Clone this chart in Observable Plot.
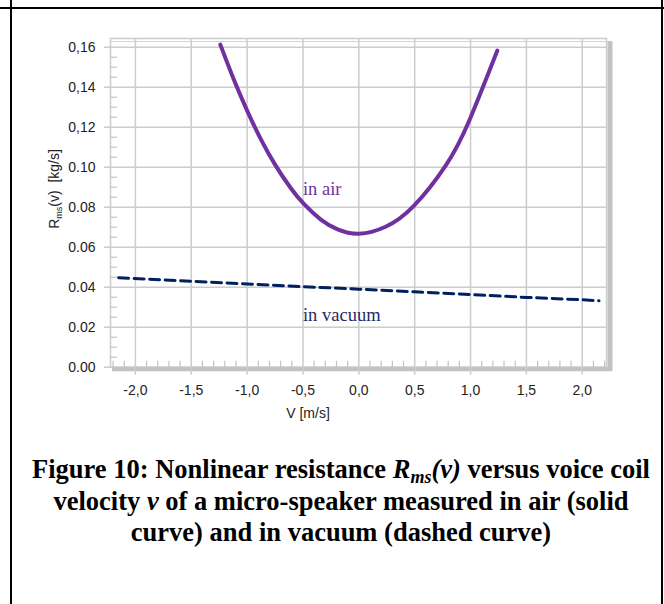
<!DOCTYPE html>
<html><head><meta charset="utf-8">
<script src="https://cdn.jsdelivr.net/npm/d3@7"></script>
<script src="https://cdn.jsdelivr.net/npm/@observablehq/plot@0.6"></script>
<style>
body{margin:0;background:#fff;}
#wrap{position:relative;width:664px;height:604px;overflow:hidden;background:#fff;}
.b{position:absolute;background:#000;}
#chart{position:absolute;left:0;top:0;}
#cap{position:absolute;left:14px;width:654px;top:454px;text-align:center;font-family:"Liberation Serif","Times New Roman",serif;font-weight:bold;font-size:26.5px;line-height:31.5px;color:#000;}
#cap sub{font-size:0.68em;line-height:0;vertical-align:-0.25em;}
</style></head><body>
<div id="wrap">
 <div id="chart"></div>
 <div class="b" style="left:0;top:7px;width:664px;height:2px"></div>
 <div class="b" style="left:10px;top:0;width:2px;height:604px"></div>
 <div class="b" style="left:661px;top:0;width:2px;height:604px"></div>
 <div id="cap">Figure 10: Nonlinear resistance <i>R<sub>ms</sub>(v)</i> versus voice coil<br>velocity <i>v</i> of a micro-speaker measured in air (solid<br>curve) and in vacuum (dashed curve)</div>
</div>
<script>
// ---- data ----
const airV = [-1.24, -1.12, -1.0, -0.88, -0.75, -0.61, -0.49, -0.34, -0.19, 0.0, 0.24, 0.49, 0.78, 0.99, 1.24];
const airR = [0.1613, 0.1440, 0.1283, 0.1143, 0.1013, 0.0896, 0.0815, 0.0738, 0.0689, 0.0667, 0.0702, 0.0805, 0.1010, 0.1235, 0.1583];
const vacV = [-2.15, -1.5, -1.0, -0.5, 0.0, 0.5, 1.0, 1.5, 2.0, 2.15];
const vacR = [0.0447, 0.0430, 0.0416, 0.0403, 0.0390, 0.0377, 0.0363, 0.0349, 0.0337, 0.0332];
const xTicks = [-2, -1.5, -1, -0.5, 0, 0.5, 1, 1.5, 2];
const xTickLabels = ["-2,0", "-1,5", "-1,0", "-0,5", "0,0", "0,5", "1,0", "1,5", "2,0"];
const yTicks = [0, 0.02, 0.04, 0.06, 0.08, 0.10, 0.12, 0.14, 0.16];
const yTickLabels = ["0.00", "0.02", "0.04", "0.06", "0.08", "0.10", "0,12", "0,14", "0,16"];
const labelText = ["in air", "in vacuum"];
const labelV = [-0.50, -0.50];
const labelR = [0.0859, 0.0233];
const labelColor = ["#7030a0", "#1f2a6b"];
const xDomain = [-2.223, 2.217];
const yDomain = [0, 0.16435];

const air = airV.map((v, i) => ({v, r: airR[i]}));
const vac = vacV.map((v, i) => ({v, r: vacR[i]}));
const labels = labelText.map((t, i) => ({t, v: labelV[i], r: labelR[i], c: labelColor[i]}));
const xLab = new Map(xTicks.map((d, i) => [d, xTickLabels[i]]));
const yLab = new Map(yTicks.map((d, i) => [d, yTickLabels[i]]));
const xMinor = d3.range(-22, 23).filter(i => i % 5 !== 0).map(i => i / 10);
const yMinor = d3.range(1, 33).filter(i => i % 4 !== 0).map(i => i * 0.005);

const grid = "#cccccc", shade = "#c2c2c2";
const H = 430;
const plot = Plot.plot({
  width: 664, height: H,
  marginLeft: 110, marginRight: 58, marginTop: 38, marginBottom: H - 366.7,
  style: {fontFamily: "'Liberation Sans', Arial, sans-serif", fontSize: "14px", background: "transparent", color: "#222"},
  x: {domain: xDomain},
  y: {domain: yDomain},
  marks: [
    Plot.gridX(xTicks, {stroke: grid, strokeOpacity: 1, strokeWidth: 1.5}),
    Plot.gridY(yTicks, {stroke: grid, strokeOpacity: 1, strokeWidth: 1.5}),
    Plot.ruleY([yDomain[1]], {stroke: "#d4d4d4", strokeWidth: 1.2, dy: 3}),
    Plot.frame({stroke: grid, strokeWidth: 1.5}),
    Plot.ruleY(yMinor, {y: d => d, x1: xDomain[0], x2: xDomain[0], insetRight: -7, stroke: shade, strokeWidth: 1.2}),
    Plot.ruleX(xMinor, {x: d => d, y1: 0, y2: 0, insetTop: -6, stroke: shade, strokeWidth: 1.2}),
    Plot.ruleX([xDomain[1]], {y1: yDomain[1], y2: 0, dx: 3.5, insetTop: 3, insetBottom: -4, stroke: shade, strokeWidth: 5}),
    Plot.ruleY([0], {x1: xDomain[0], x2: xDomain[1], dy: 2, insetLeft: 2, insetRight: -6, stroke: shade, strokeWidth: 4}),
    Plot.axisX({ticks: xTicks, tickFormat: d => xLab.get(d), tickSize: 8, tickPadding: 10, stroke: grid, strokeWidth: 1.5, label: null, fill: "#222"}),
    Plot.axisY({ticks: yTicks, tickFormat: d => yLab.get(d), tickSize: 6, tickPadding: 9, stroke: grid, strokeWidth: 1.5, label: null, fill: "#222"}),
    Plot.line(vac, {x: "v", y: "r", stroke: "#002060", strokeWidth: 3, strokeDasharray: "10,5.5"}),
    Plot.line(air, {x: "v", y: "r", stroke: "#7030a0", strokeWidth: 4, curve: "natural"}),
    Plot.text(labels, {x: "v", y: "r", text: "t", fill: "c", textAnchor: "start", lineAnchor: "bottom", fontFamily: "'Liberation Serif', 'Times New Roman', serif", fontSize: 18.5})
  ]
});
const svg = d3.select(plot);
const yl = svg.append("text")
  .attr("transform", "translate(59,189) rotate(-90)")
  .attr("text-anchor", "middle")
  .attr("fill", "#222")
  .style("font-family", "'Liberation Sans', Arial, sans-serif")
  .style("font-size", "14px");
yl.append("tspan").text("R");
yl.append("tspan").attr("font-size", "9px").attr("dy", "3").text("ms");
yl.append("tspan").attr("dy", "-3").text("(v)\u00a0\u00a0[kg/s]");
svg.append("text")
  .attr("x", 308).attr("y", 418)
  .attr("text-anchor", "middle")
  .attr("fill", "#222")
  .style("font-family", "'Liberation Sans', Arial, sans-serif")
  .style("font-size", "14px")
  .text("V [m/s]");
document.getElementById("chart").appendChild(plot);
</script>
</body></html>
